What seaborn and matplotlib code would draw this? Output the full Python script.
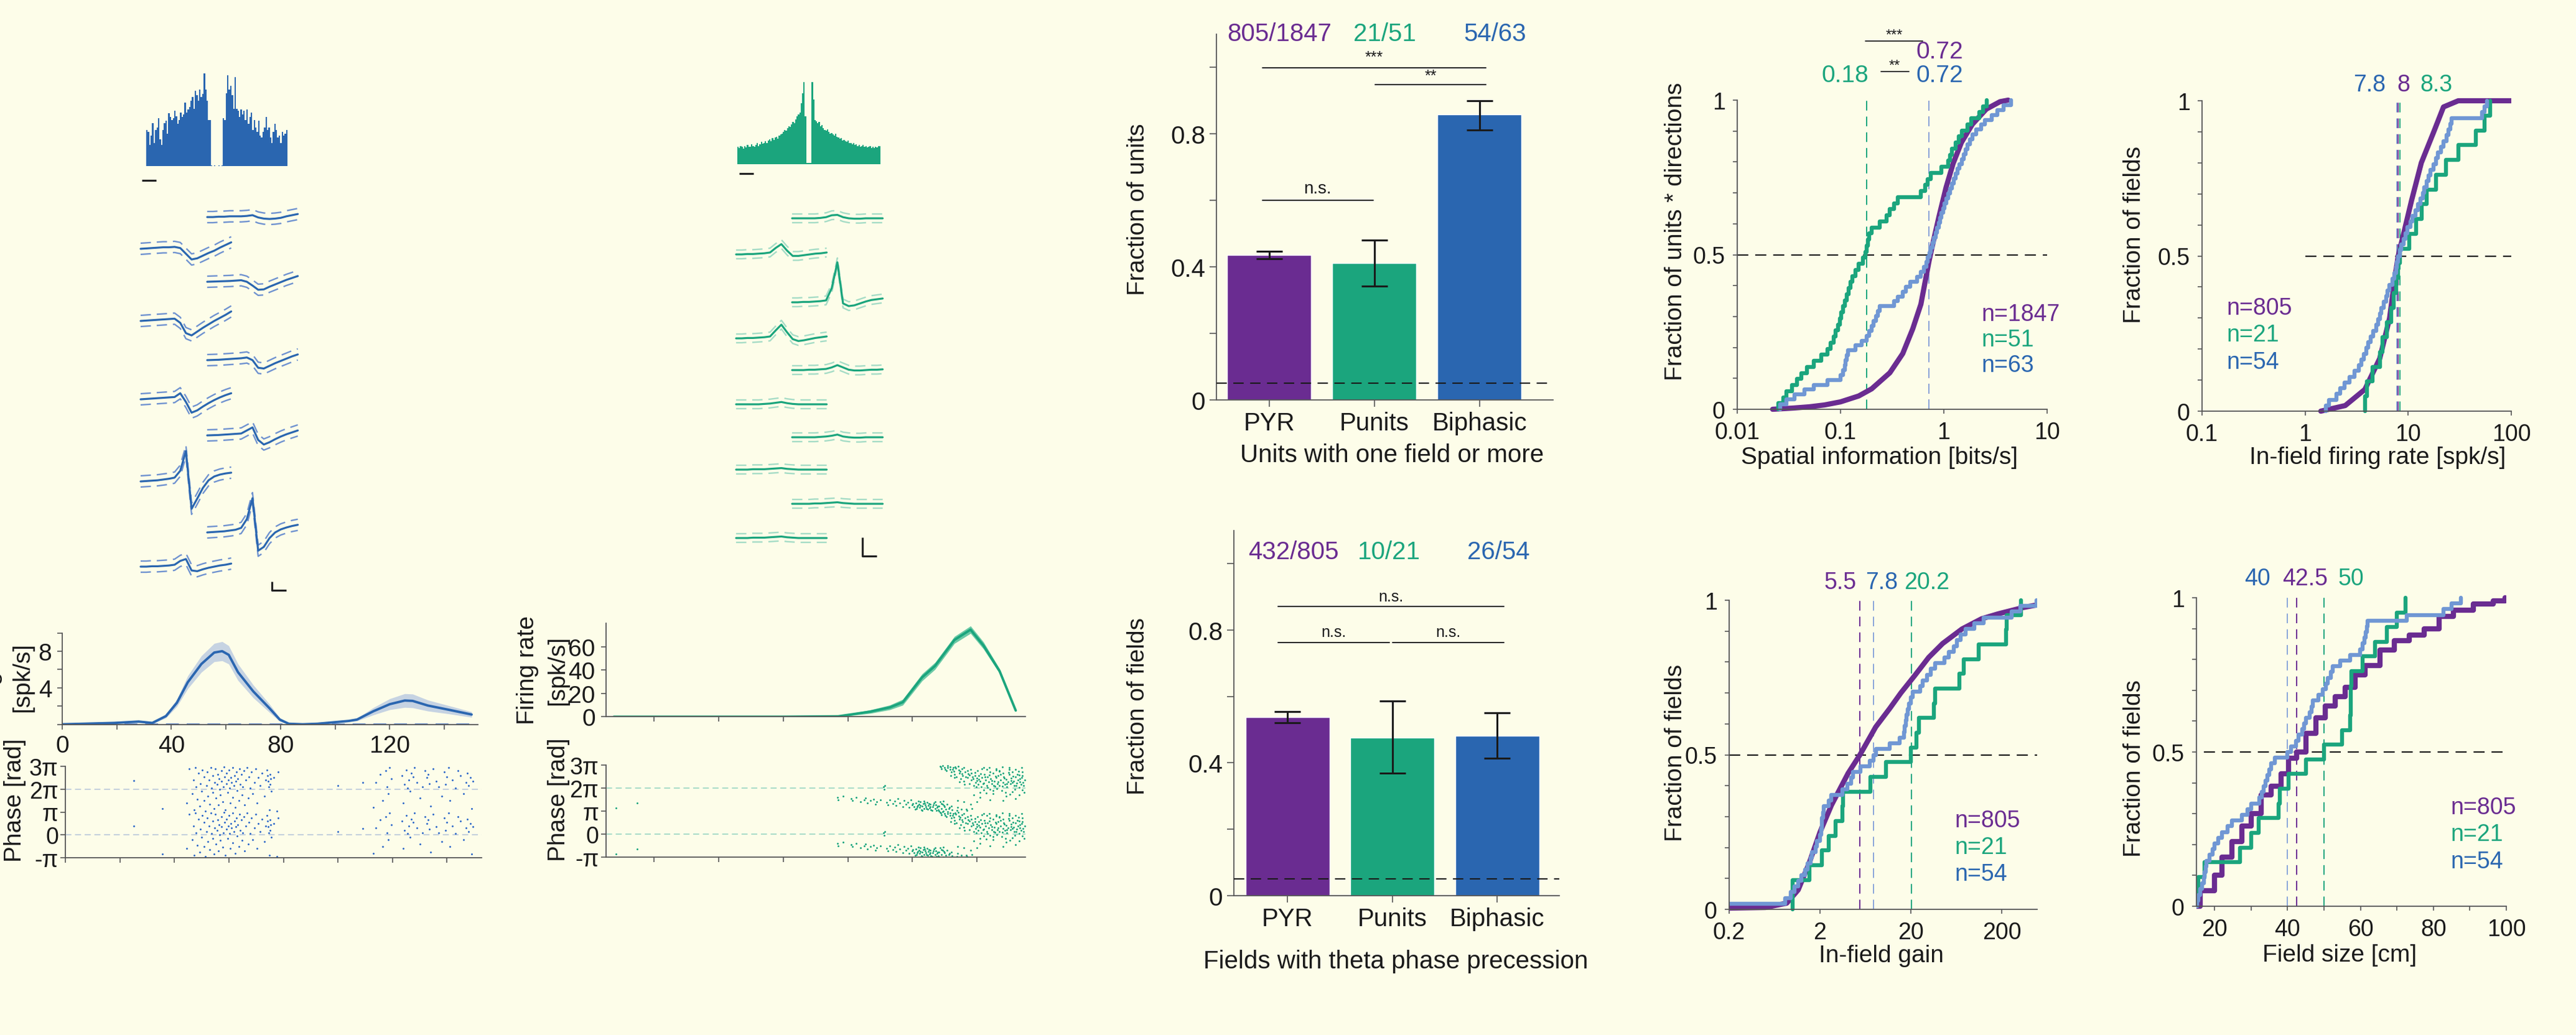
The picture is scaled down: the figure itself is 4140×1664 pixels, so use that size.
import numpy as np
import pandas as pd
import matplotlib
matplotlib.use("Agg")
import matplotlib.pyplot as plt
from matplotlib.patches import Rectangle
from matplotlib.ticker import NullLocator
import seaborn as sns

sns.set_theme(style="ticks")
plt.rcParams['font.family'] = ['Liberation Sans', 'DejaVu Sans']
plt.rcParams['axes.unicode_minus'] = False

# ------------------------------------------------------------------ colours
PURPLE = "#6a2c91"
GREEN = "#1ba57d"
BLUE = "#2a66b0"
LBLUE = "#7097d4"
BG = "#fdfde9"
TXT = "#1a1a1a"
SPINE = "#555555"

# ------------------------------------------------------------------ data
# autocorrelograms (counts per bin)
BLUE_ACG = [95, 90, 55, 80, 112, 60, 95, 100, 125, 70, 55, 95, 112, 118, 85, 138,
            128, 120, 125, 145, 130, 110, 120, 140, 128, 135, 165, 140, 148, 155,
            170, 180, 150, 196, 185, 170, 200, 180, 188, 242, 200, 170, 120, 120,
            2, 0, 2, 0, 0, 2, 0, 2,
            125, 120, 190, 237, 200, 210, 185, 150, 232, 150, 145, 128, 148, 135,
            145, 120, 148, 110, 128, 140, 95, 120, 100, 90, 118, 80, 75, 90, 100,
            128, 95, 100, 75, 60, 90, 110, 95, 75, 80, 60, 90, 80, 85, 95]
GREEN_ACG = [45, 42, 48, 45, 40, 47, 44, 50, 46, 45, 52, 48, 45, 50, 55, 48, 52,
             58, 54, 56, 60, 55, 62, 65, 60, 68, 64, 70, 72, 66, 75, 78, 80, 85,
             90, 88, 95, 100, 98, 105, 110, 108, 118, 125, 130, 135, 160, 185, 215, 125,
             4, 4, 4, 4,
             215, 170, 115, 112, 108, 110, 100, 102, 95, 90, 88, 92, 85, 80, 82, 78,
             75, 80, 72, 70, 66, 68, 62, 64, 60, 58, 62, 55, 56, 52, 55, 50, 52, 48,
             50, 46, 48, 50, 45, 47, 44, 46, 48, 43, 45, 42, 46, 44, 47, 48]

# mean waveforms (a.u.), left column channels then right column channels
BLUE_WF_LEFT = [
    [0, 1, 2, 3, 4, 4, 5, 2, -13, -28, -25, -18, -11, -5, 3, 10, 17],
    [0, 1, 2, 3, 4, 5, 6, -5, -32, -38, -28, -18, -9, 0, 8, 16, 25],
    [0, 1, 2, 3, 4, 5, 6, 16, -7, -35, -29, -19, -10, -2, 5, 11, 16],
    [0, 1, 2, 3, 5, 7, 10, 28, 80, -72, -45, -17, 3, 13, 18, 21, 23],
    [0, 0, 1, 1, 2, 3, 5, 15, 20, -10, -12, -7, -3, 0, 3, 5, 8]]
BLUE_WF_RIGHT = [
    [0, 0, 1, 1, 2, 2, 2, 3, 5, -1, -4, -5, -4, -2, 2, 5, 8],
    [0, 0.5, 1, 1.5, 2, 3, 4, 0, -10, -21, -20, -13, -7, -1, 5, 10, 15],
    [0, 0.5, 1, 2, 3, 4, 5, 7, 0, -20, -22, -15, -8, -2, 4, 10, 15],
    [0, 0.5, 1, 2, 3, 4, 5, 13, 21, -12, -24, -18, -10, -3, 3, 8, 13],
    [0, 1, 2, 3, 5, 7, 12, 35, 90, -48, -38, -15, 0, 8, 13, 17, 20]]
GREEN_WF_LEFT = [
    [0, 0, 1, 1, 2, 3, 5, 17, 27, 10, -4, -4, -2, 0, 2, 3, 5],
    [0, 0, 1, 1, 2, 3, 5, 21, 36, 16, -2, -7, -5, -2, 1, 3, 5],
    [0, 0, 0, 0, 0, 1, 2, 4, 6, 3, 1, 0, 0, 0, 0, 0, 0],
    [0, 0, 0, 1, 1, 1, 2, 3, 4, 2, 1, 0, 0, 0, 0, 0, 0],
    [0, 0, 0, 1, 1, 1, 2, 3, 4, 2, 1, 0, 0, 0, 0, 0, 0]]
GREEN_WF_RIGHT = [
    [0, 0, 0, 0, 0, 1, 3, 8, 9, 3, 0, -1, -1, 0, 0, 0, 0],
    [0, 0, 1, 1, 2, 3, 5, 37, 105, -3, -10, -8, -3, 2, 6, 8, 10],
    [0, 0, 0, 1, 1, 2, 3, 7, 13, 7, 1, -1, -1, 0, 1, 1, 2],
    [0, 0, 0, 0, 0, 1, 2, 4, 7, 2, 0, -1, -1, 0, 0, 0, 0],
    [0, 0, 0, 0, 1, 1, 2, 3, 4, 2, 1, 0, 0, 0, 0, 0, 0]]

# firing-rate maps
BLUE_FR_X = [0, 19, 28, 33, 38, 42, 46, 51, 55.7, 58.6, 61, 64.4, 70, 76, 79.7, 83,
             88, 93.5, 105, 108, 114, 120, 125.5, 128.4, 134, 141.5, 150]
BLUE_FR_Y = [0, 0.15, 0.3, 0.15, 0.9, 2.35, 4.6, 6.6, 7.85, 8.0, 7.6, 5.7, 3.6, 1.74,
             0.52, 0.06, 0, 0.06, 0.37, 0.52, 1.43, 2.2, 2.6, 2.56, 2.05, 1.6, 1.07]
BLUE_FR_E = [0.05, 0.05, 0.1, 0.1, 0.2, 0.4, 0.7, 0.9, 1.0, 1.05, 1.0, 0.9, 0.7, 0.45,
             0.2, 0.05, 0.03, 0.05, 0.1, 0.15, 0.4, 0.6, 0.75, 0.75, 0.6, 0.45, 0.3]
GREEN_FR_X = [7.5, 20, 40, 60, 77, 87, 93, 97, 103, 107, 113, 118, 122, 127, 132]
GREEN_FR_Y = [0, 0, 0, 0, 0.35, 4.4, 8, 12.4, 33.7, 43.5, 65.7, 74.5, 61, 39, 5.3]
GREEN_FR_E = [0.2, 0.2, 0.2, 0.2, 0.5, 1.5, 2, 2.5, 3, 3, 3, 3.2, 3, 2, 1]

# spikes: (position [cm], theta phase [pi rad])
BLUE_SPIKES = [
    (25, 0.38), (35.6, -0.85), (100, 0.15), (109, 0.28),
    (44.5, -0.6), (45.5, 0.9), (46.5, -0.2), (47, 0.4), (47.2, -0.9), (47.8, 0.95),
    (48, 0.1), (48.3, -0.45), (48.8, 0.7), (49.2, -0.75), (49.5, 0.25), (50, -0.1),
    (50.3, 0.85), (50.8, -0.5), (51, 0.55), (51.4, -0.95), (51.8, 0.15), (52, 0.75),
    (52.3, -0.3), (52.7, 0.4), (53, -0.65), (53.3, 0.95), (53.6, 0.05), (54, -0.15),
    (54.2, 0.6), (54.5, -0.85), (54.8, 0.3), (55.1, 0.9), (55.3, -0.4), (55.6, 0.2),
    (55.9, 0.65), (56.1, -0.7), (56.4, 0.45), (56.6, 0.0), (56.9, -0.25), (57.2, 0.8),
    (57.4, 0.35), (57.7, -0.55), (58, 0.1), (58.2, 0.98), (58.5, 0.55), (58.7, -0.9),
    (59, 0.25), (59.2, 0.7), (59.5, -0.15), (59.8, 0.4), (60, 0.85), (60.3, 0.05),
    (60.5, -0.6), (60.8, 0.5), (61, 0.3), (61.3, -0.35), (61.5, 0.95), (61.8, 0.15),
    (62, 0.6), (62.3, -0.8), (62.5, 0.35), (62.8, 0.75), (63, -0.05), (63.3, 0.45),
    (63.6, -0.5), (63.9, 0.9), (64.2, 0.2), (64.5, 0.65), (64.8, -0.25), (65.1, 0.1),
    (65.5, 0.8), (65.8, -0.7), (66.2, 0.4), (66.6, 0.95), (67, -0.4), (67.4, 0.55),
    (67.8, 0.05), (68.3, 0.75), (68.8, -0.2), (69.3, 0.3), (69.8, 0.9), (70.3, -0.6),
    (70.8, 0.5), (71.5, 0.15), (72.2, 0.7), (73, -0.3), (73.5, 0.4), (74, 0.85),
    (74.2, 0.6), (74.4, 0.35), (74.6, 0.1), (74.8, -0.9), (75, 0.65), (75.2, 0.2),
    (75.4, 0.45), (75.6, -0.1), (76.5, 0.5), (77.5, -0.95), (78, 0.75),
    (113, -0.8), (114, 0.3), (115.5, 0.65), (116.5, -0.5), (117.5, 0.8), (118, 0.1),
    (118.5, -0.2), (119, 0.95), (119.5, 0.45), (123.5, 0.6), (124, -0.6), (124.5, 0.2),
    (125, 0.85), (125.5, 0.05), (126, 0.4), (126.5, -0.1), (127, 0.7), (127.5, 0.55),
    (128, 0.95), (129, 0.3), (130, -0.4), (131, 0.1), (132, 0.8), (132.5, 0.5),
    (133, 0.65), (133.5, 0.25), (134, -0.75), (135, 0.9), (136, 0.35), (137, 0.1),
    (138, -0.3), (139, 0.75), (139.5, 0.2), (140, 0.55), (140.5, 0.95), (141, -0.5),
    (142, 0.4), (143, 0.05), (144, 0.8), (145, 0.6), (146, -0.2), (147, 0.3),
    (147.5, 0.7), (148, 0.15), (148.5, 0.5), (149, -0.85), (149.5, 0.35)]
GREEN_SPIKES = [
    (8.1, -0.87), (14.7, -0.65),
    (76.7, -0.4), (77, -0.5), (78.5, -0.35), (81, -0.45), (81.5, -0.55), (82.5, -0.4),
    (84, -0.6), (85, -0.5), (85.5, -0.42), (86, -0.65), (87, -0.55), (88, -0.48),
    (88.5, -0.7), (89, -0.6), (90, -0.52), (91, 0.05), (91.2, -0.05), (91.4, 0.12),
    (92, -0.62), (92.5, -0.72), (93, -0.5), (94, -0.68), (94.5, -0.58), (95, -0.75),
    (95.5, -0.45), (96, -0.66), (97, -0.8), (97.5, -0.55), (98, -0.7), (98.5, -0.62),
    (99, -0.85), (99.5, -0.5), (100, -0.72),
    (100.5, -0.8), (101, -0.65), (101.3, -0.9), (101.6, -0.75), (102, -0.7),
    (102.2, -0.85), (102.5, -0.6), (102.8, -0.95), (103, -0.78), (103.3, -0.68),
    (103.6, -0.88), (104, -0.72), (104.2, -0.82), (104.5, -0.62), (104.8, -0.92),
    (105, -0.76), (105.3, -0.86), (105.6, -0.7), (106, -0.98), (106.3, -0.8),
    (106.6, -0.66), (107, -0.9), (107.3, -0.74), (107.6, -0.84), (108, -0.95),
    (108.3, -0.78), (108.6, -0.6), (109, -0.88), (109.3, -0.7), (109.6, -1.0), (110, -0.82),
    (100.2, -0.68), (100.9, -0.93), (101.8, -0.58), (102.4, -0.77), (103.1, -0.97),
    (103.8, -0.64), (104.4, -0.9), (105.1, -0.67), (105.8, -0.94), (106.4, -0.72),
    (107.1, -0.6), (107.8, -0.79), (108.2, -0.99), (108.9, -0.67), (109.7, -0.77),
    (110.4, -0.93), (110.8, -0.7), (111.5, -0.85), (112.1, -0.78), (101.4, -0.82),
    (103.5, -0.56), (105.5, -0.82), (107.5, -0.96), (109.5, -0.58),
    (108.5, 0.95), (109, 0.85), (110, 0.9), (110.5, 0.75), (111, 0.98), (111.3, -0.9),
    (111.6, 0.8), (112, 0.7), (112.3, -0.95), (112.6, 0.88), (113, 0.6), (113.3, 0.92),
    (113.6, 0.5), (114, -0.85), (114.3, 0.78), (114.6, 0.65), (115, 0.4), (115.3, 0.85),
    (115.6, 0.55), (116, 0.3), (116.3, 0.7), (116.6, -0.92), (117, 0.45), (117.3, 0.62),
    (117.6, 0.2), (118, 0.8), (118.3, 0.35), (118.6, 0.5), (119, 0.1), (119.3, 0.68),
    (119.6, 0.25), (120, 0.42),
    (108.8, 0.92), (109.4, 0.97), (110.2, 0.82), (110.9, 0.88), (111.7, 0.93),
    (112.4, 0.82), (112.9, 0.74), (113.5, 0.86), (114.1, 0.95), (114.8, 0.72),
    (115.4, 0.62), (115.9, 0.9), (116.5, 0.48), (117.1, 0.77), (117.7, 0.58),
    (118.2, 0.66), (118.8, 0.4), (119.4, 0.54), (119.9, 0.33), (113.8, -0.98),
    (115.1, -0.93), (116.9, -0.97), (118.5, -0.88), (111.9, 0.55), (113.1, 0.45),
    (114.5, 0.28), (116.2, 0.15),
    (120.3, 0.15), (120.6, 0.55), (121, 0.3), (121.3, 0.05), (121.6, 0.45), (122, 0.22),
    (122.3, 0.6), (122.6, 0.35), (123, 0.1), (123.3, 0.5), (123.6, 0.28), (124, -0.05),
    (124.3, 0.4), (124.6, 0.18), (125, 0.65), (125.3, 0.3), (125.6, 0.08), (126, 0.45),
    (126.3, 0.2), (126.6, 0.55), (127, 0.12), (127.3, 0.35), (127.6, -0.1), (128, 0.25),
    (128.3, 0.5), (128.6, 0.15), (129, 0.38), (129.3, 0.05), (129.6, 0.28), (130, 0.6),
    (130.3, 0.18), (130.6, 0.42), (131, -0.15), (131.3, 0.3), (131.6, 0.1), (132, 0.48),
    (132.3, 0.22), (132.6, 0.35), (133, 0.02), (133.3, 0.4), (133.6, 0.15), (134, 0.55),
    (134.3, 0.25), (134.6, -0.2),
    (119.8, 0.05), (120.5, 0.38), (121.2, 0.62), (121.8, 0.18), (122.5, 0.48),
    (123.2, 0.02), (123.8, 0.58), (124.5, 0.32), (125.2, 0.12), (125.8, 0.52),
    (126.5, 0.28), (127.2, 0.6), (127.8, 0.08), (128.5, 0.42), (129.2, 0.2),
    (129.8, 0.68), (130.5, 0.32), (131.2, 0.52), (131.8, -0.05), (132.5, 0.6),
    (133.2, 0.27), (133.8, 0.47), (134.5, 0.1), (120.9, -0.18), (122.8, -0.22),
    (124.9, -0.12), (126.9, 0.72), (128.9, -0.2), (130.9, 0.25), (132.9, 0.72),
    (134.9, 0.35), (121.5, 0.85), (123.9, 0.9), (125.9, 0.78), (127.9, 0.92),
    (129.9, 0.88), (131.9, 0.82), (133.9, 0.9), (124.1, 0.7), (128.1, 0.65),
    (132.1, 0.12), (134.1, -0.08), (120.1, 0.75), (122.1, -0.08), (126.1, -0.02),
    (130.1, -0.28), (133.1, 0.58),
    (119, -0.3), (121, -0.4), (123, 0.8), (125, -0.25), (127, 0.75), (129, -0.35),
    (131, 0.7), (133, -0.3), (120, -0.6), (122, 0.9), (124, -0.5), (126, 0.85),
    (128, -0.55), (130, 0.8), (132, -0.45), (134, 0.7), (118, -0.7), (116, -0.6),
    (114, -0.55)]

# bar charts
CATEGORIES = ["PYR", "Punits", "Biphasic"]
UNITS_FRAC = [805 / 1847, 21 / 51, 54 / 63]
UNITS_LO = [0.424, 0.342, 0.811]
UNITS_HI = [0.447, 0.480, 0.900]
UNITS_COUNTS = ["805/1847", "21/51", "54/63"]
FIELDS_FRAC = [432 / 805, 10 / 21, 26 / 54]
FIELDS_LO = [0.520, 0.368, 0.413]
FIELDS_HI = [0.555, 0.586, 0.550]
FIELDS_COUNTS = ["432/805", "10/21", "26/54"]
CHANCE = 0.05

# CDF data -- spatial information [bits/s]
PUR_SI_X = [0.022, 0.035, 0.05, 0.07, 0.1, 0.15, 0.2, 0.3, 0.4, 0.5, 0.6, 0.72, 0.8,
            0.9, 1.05, 1.23, 1.48, 1.89, 2.58, 3.5, 4.2]
PUR_SI_F = [0, 0.004, 0.008, 0.014, 0.024, 0.043, 0.066, 0.118, 0.18, 0.26, 0.34,
            0.48, 0.55, 0.625, 0.717, 0.795, 0.863, 0.922, 0.971, 0.995, 1.0]
GRN_SI = [0.025, 0.028, 0.030, 0.034, 0.038, 0.042, 0.047, 0.055, 0.065, 0.075, 0.080,
          0.086, 0.090, 0.094, 0.098, 0.102, 0.106, 0.110, 0.115, 0.12, 0.125, 0.13,
          0.14, 0.15, 0.165, 0.175, 0.18, 0.185, 0.19, 0.20, 0.24, 0.28, 0.30, 0.33,
          0.36, 0.60, 0.66, 0.70, 0.75, 0.95, 1.10, 1.15, 1.20, 1.30, 1.40, 1.50, 1.70,
          1.85, 2.2, 2.4, 2.6]
BLU_SI = [0.026, 0.030, 0.036, 0.045, 0.055, 0.075, 0.10, 0.105, 0.11, 0.112, 0.115,
          0.118, 0.14, 0.16, 0.18, 0.19, 0.20, 0.21, 0.22, 0.23, 0.24, 0.33, 0.36, 0.40,
          0.43, 0.47, 0.55, 0.60, 0.64, 0.68, 0.70, 0.73, 0.75, 0.78, 0.80, 0.83, 0.86,
          0.90, 0.92, 0.95, 0.98, 1.02, 1.05, 1.10, 1.15, 1.20, 1.25, 1.30, 1.35, 1.42,
          1.50, 1.55, 1.62, 1.70, 1.80, 1.90, 2.05, 2.30, 2.50, 2.90, 3.30, 3.80, 4.50]
MED_SI = [0.72, 0.18, 0.72]

# in-field firing rate [spk/s]
PUR_FR_X = [1.42, 2.45, 3.8, 5.3, 6.6, 7.5, 8.0, 9.0, 10.8, 13.4, 17.7, 22, 30.6, 100]
PUR_FR_F = [0, 0.018, 0.07, 0.17, 0.3, 0.44, 0.5, 0.57, 0.68, 0.8, 0.9, 0.98, 1.0, 1.0]
GRN_FR = [3.8, 4.0, 4.5, 5.3, 5.6, 6.2, 6.8, 7.2, 7.6, 8.0, 8.3, 10.2, 12.0, 13.5,
          15.0, 18.6, 23.3, 30.6, 45.0, 55.0, 62.0]
BLU_FR = [1.6, 1.7, 2.0, 2.2, 2.4, 2.7, 3.0, 3.3, 3.5, 3.7, 3.9, 4.1, 4.3, 4.6, 4.9,
          5.1, 5.3, 5.5, 5.8, 6.1, 6.3, 6.6, 7.0, 7.3, 7.6, 7.8, 8.0, 8.3, 8.6, 9.0,
          9.4, 9.8, 10.5, 11, 11.8, 12.5, 13.2, 13.8, 14.2, 15.0, 15.8, 16.5, 17.5,
          18.5, 19.5, 20.8, 22.0, 23.5, 24.5, 25.5, 26.5, 52, 55, 58]
MED_FR = [8.0, 8.3, 7.8]

# in-field gain
PUR_GAIN_X = [0.2, 0.5, 0.86, 1.15, 1.52, 2.0, 2.67, 4.07, 5.5, 8.2, 11.7, 15.5, 22,
              31.4, 44.7, 73, 120, 183, 340, 490]
PUR_GAIN_F = [0.004, 0.006, 0.02, 0.063, 0.15, 0.25, 0.337, 0.44, 0.5, 0.59, 0.65,
              0.70, 0.756, 0.815, 0.86, 0.907, 0.94, 0.956, 0.976, 0.985]
GRN_GAIN = [1.0, 1.0, 1.52, 2.08, 2.5, 2.97, 3.5, 3.6, 7.2, 10.6, 19.9, 22.9, 24.4,
            36, 37, 68, 76, 112, 224, 226, 325]
BLU_GAIN = [0.1, 0.83, 0.96, 1.05, 1.15, 1.25, 1.37, 1.45, 1.57, 1.62, 1.8, 1.85, 2.0,
            2.05, 2.08, 2.1, 2.15, 2.2, 2.5, 2.67, 3.5, 4.0, 4.4, 4.6, 5.6, 7.0, 7.8,
            8.2, 11.7, 15.0, 16.7, 17.0, 17.5, 18.0, 18.5, 19.0, 19.9, 21, 25.3, 27,
            30.1, 33, 37, 47, 52, 59, 64, 70, 80, 100, 126, 256, 320, 480]
MED_GAIN = [5.5, 20.2, 7.8]

# field size [cm]
PUR_SIZE_X = [15, 16, 20, 22, 24.7, 27.4, 30, 32.8, 35.5, 38.2, 40.3, 42.5, 45, 47.7,
              50.4, 53, 55.8, 58.5, 61.2, 65.3, 69.3, 73.4, 77.4, 81.5, 85.5, 91, 96.4, 99.7]
PUR_SIZE_F = [0, 0.05, 0.10, 0.16, 0.21, 0.26, 0.30, 0.36, 0.39, 0.43, 0.48, 0.50,
              0.56, 0.61, 0.65, 0.68, 0.71, 0.75, 0.78, 0.83, 0.86, 0.88, 0.90, 0.94,
              0.96, 0.98, 0.99, 1.0]
GRN_SIZE = [15.2, 15.5, 17.3, 27, 30, 32, 37.6, 37.8, 40.3, 45, 50, 55, 57.2, 57.3,
            57.4, 57.5, 60.5, 64, 67.3, 70, 72.3]
BLU_SIZE = [15.2, 15.5, 16, 16.5, 17, 17.3, 17.5, 17.8, 18.5, 19.5, 20, 21, 22, 23.5,
            24.7, 27.4, 29, 30, 32.2, 33, 33.5, 34, 34.5, 34.9, 35.5, 36.5, 40, 41,
            42.3, 43, 44, 44.5, 45, 46, 46.5, 47, 48.5, 49.7, 50.5, 51, 51.8, 52.4,
            54.5, 57.2, 59.9, 60.5, 61, 61.5, 61.8, 62, 72.7, 82.8, 85, 87.6]
MED_SIZE = [42.5, 50, 40]

N_UNITS = ["n=1847", "n=51", "n=63"]
N_FIELDS = ["n=805", "n=21", "n=54"]

# ------------------------------------------------------------------ figure
W, H, DPI = 4140, 1665, 100
fig = plt.figure(figsize=(W / DPI, H / DPI), dpi=DPI, facecolor=BG)


def add_ax(x0, y0, x1, y1):
    ax = fig.add_axes([x0 / W, 1 - y1 / H, (x1 - x0) / W, (y1 - y0) / H])
    ax.set_facecolor("none")
    return ax


def style(ax, tick_len=7, pad=4, size=28):
    sns.despine(ax=ax)
    for s in ["left", "bottom"]:
        ax.spines[s].set_color(SPINE)
        ax.spines[s].set_linewidth(1.3)
    ax.tick_params(direction="out", length=tick_len, width=1.2, color=SPINE,
                   pad=pad, labelsize=size, labelcolor=TXT)


ov = fig.add_axes([0, 0, 1, 1])
ov.set_xlim(0, W)
ov.set_ylim(H, 0)
ov.axis("off")
ov.set_zorder(20)
ov.patch.set_alpha(0)


def otext(x, y, s, size=28, color=TXT, rot=0, ha="center", va="center"):
    ov.text(x, y, s, fontsize=size, color=color, rotation=rot, ha=ha, va=va,
            clip_on=False)


# ---------------- ACGs
def draw_acg(box, counts, color):
    ax = add_ax(*box)
    idx = np.arange(len(counts))
    sns.histplot(x=idx, weights=counts, discrete=True, ax=ax, color=color,
                 alpha=1, linewidth=0, shrink=1)
    ax.set_xlim(-0.5, len(counts) - 0.5)
    ax.set_ylim(0, max(counts))
    ax.axis("off")


draw_acg((235, 119, 462, 268), BLUE_ACG, BLUE)
draw_acg((1185, 133, 1415, 265), GREEN_ACG, GREEN)


# ---------------- waveforms
def draw_wf(box, left, right, xl, xr, bl, br, sd, color, dcolor):
    ax = add_ax(*box)
    ax.set_xlim(box[0], box[2])
    ax.set_ylim(box[3], box[1])
    ax.axis("off")
    dx, sc = 9.1, 0.612
    for waves, x0, bases in ((left, xl, bl), (right, xr, br)):
        for w, b in zip(waves, bases):
            w = np.asarray(w, float)
            t = x0 + dx * np.arange(len(w))
            y = b - w * sc
            ax.plot(t, y - sd, color=dcolor, lw=1.7, dashes=(7, 4))
            ax.plot(t, y + sd, color=dcolor, lw=1.7, dashes=(7, 4))
            ax.plot(t, y, color=color, lw=2.3)


draw_wf((200, 320, 520, 990), BLUE_WF_LEFT, BLUE_WF_RIGHT, 226, 333,
        [401, 517, 643, 775, 912], [350, 454, 580, 701, 857], 9, BLUE, "#6f92d0")
draw_wf((1160, 320, 1440, 920), GREEN_WF_LEFT, GREEN_WF_RIGHT, 1183, 1273,
        [410, 545, 651, 756, 866], [352, 487, 596, 704, 811], 7, GREEN, "#a5dcc6")

# scale bars
for xs, ys in (([228, 251], [291, 291]), ([437, 437, 460], [936, 950, 950]),
               ([1188, 1211], [280, 280]), ([1386, 1386, 1409], [865, 895, 895])):
    ov.plot(xs, ys, color="#222222", lw=2.3, solid_capstyle="butt")


# ---------------- firing-rate maps
def draw_fr(box, xs, ys, es, color, band, xlim, ylim, xticks, xlabels,
            yticks, ylabels, base_dash=None):
    ax = add_ax(*box)
    x = np.asarray(xs); y = np.asarray(ys); e = np.asarray(es)
    if base_dash:
        ax.hlines(0, 0, xs[-1], color=base_dash, lw=3, linestyles=(0, (5, 3)))
    ax.fill_between(x, y - e, y + e, color=band, lw=0)
    sns.lineplot(x=x, y=y, ax=ax, color=color, lw=2.8, estimator=None, sort=False)
    ax.set_xlim(*xlim); ax.set_ylim(*ylim)
    ax.set_xticks(xticks); ax.set_xticklabels(xlabels)
    ax.set_yticks(yticks); ax.set_yticklabels(ylabels)
    ax.set_xlabel(""); ax.set_ylabel("")
    style(ax, tick_len=6, pad=6, size=28)
    return ax


draw_fr((100, 1018.5, 768.5, 1165.5), BLUE_FR_X, BLUE_FR_Y, BLUE_FR_E, BLUE,
        "#c6d3e2", (0, 152.4), (0, 10),
        [0, 20, 40, 60, 80, 100, 120, 140], ["0", "", "40", "", "80", "", "120", ""],
        [0, 2, 4, 6, 8, 10], ["", "", "4", "", "8", ""], base_dash="#6f92d0")
draw_fr((973.5, 1003, 1648, 1153.3), GREEN_FR_X, GREEN_FR_Y, GREEN_FR_E, GREEN,
        "#6cc9a6", (5, 135), (0, 80),
        [20, 40, 60, 80, 100, 120], [""] * 6,
        [0, 20, 40, 60], ["0", "20", "40", "60"])


def draw_phase(box, spikes, color, line_col, xlim, xticks):
    ax = add_ax(*box)
    df = pd.DataFrame(spikes, columns=["pos", "phase"])
    df = pd.concat([df, df.assign(phase=df["phase"] + 2)], ignore_index=True)
    for lv in (0, 2):
        ax.axhline(lv, color=line_col, lw=1.4, dashes=(5, 3), zorder=0)
    sns.scatterplot(data=df, x="pos", y="phase", ax=ax, color=color, s=4.5,
                    linewidth=0, legend=False)
    ax.set_xlim(*xlim); ax.set_ylim(-1, 3)
    ax.set_xticks(xticks); ax.set_xticklabels([""] * len(xticks))
    ax.set_yticks([-1, 0, 1, 2, 3])
    ax.set_yticklabels(["-π", "0", "π", "2π", "3π"])
    ax.set_xlabel(""); ax.set_ylabel("")
    style(ax, tick_len=6, pad=2, size=27)
    return ax


draw_phase((105, 1233, 773.6, 1380), BLUE_SPIKES, "#2a66c8", "#c3cfdc", (0, 152.6),
           [0, 20, 40, 60, 80, 100, 120, 140])
draw_phase((973.5, 1231, 1648, 1379), GREEN_SPIKES, GREEN, "#a8dcc8", (5, 135),
           [20, 40, 60, 80, 100, 120])

otext(-14, 1089, "Firing rate", rot=90)
otext(36, 1089, "[spk/s]", rot=90)
otext(24, 1287, "Phase [rad]", rot=90)
otext(848, 1077, "Firing rate", rot=90)
otext(896, 1078, "[spk/s]", rot=90)
otext(898, 1286, "Phase [rad]", rot=90)


# ---------------- bar charts
def draw_bars(box, fr, lo, hi, counts, count_x, count_y, xlim):
    ax = add_ax(*box)
    df = pd.DataFrame({"cat": CATEGORIES, "frac": fr})
    sns.barplot(data=df, x="cat", y="frac", hue="cat", order=CATEGORIES,
                palette=[PURPLE, GREEN, BLUE], saturation=1, width=0.8,
                legend=False, ax=ax, errorbar=None)
    fr = np.asarray(fr)
    ax.errorbar(np.arange(3), fr, yerr=[fr - np.asarray(lo), np.asarray(hi) - fr],
                fmt="none", ecolor="#1a1a1a", elinewidth=2.2, capsize=15, capthick=2.2,
                zorder=5)
    ax.axhline(CHANCE, color="#1a1a1a", lw=1.5, dashes=(8, 5), zorder=6)
    ax.set_xlim(*xlim); ax.set_ylim(0, 1.1)
    ax.set_yticks([0, 0.2, 0.4, 0.6, 0.8, 1.0])
    ax.set_yticklabels(["0", "", "0.4", "", "0.8", ""])
    ax.set_xlabel(""); ax.set_ylabel("")
    style(ax, tick_len=8, pad=5, size=29)
    for i, (c, col) in enumerate(zip(counts, [PURPLE, GREEN, BLUE])):
        ax.text(i + count_x[i], count_y, c, color=col, fontsize=29, ha="center",
                va="center", clip_on=False)
    return ax


def sig(ax, x0, x1, y, label, ty, size):
    ax.plot([x0, x1], [y, y], color="#222222", lw=1.4, clip_on=False)
    ax.text((x0 + x1) / 2, ty, label, ha="center", va="center", fontsize=size,
            color=TXT, clip_on=False)


axb1 = draw_bars((1955, 55.5, 2496, 644), UNITS_FRAC, UNITS_LO, UNITS_HI, UNITS_COUNTS,
                 [0.1, 0.1, 0.15], 1.10, (-0.5, 2.7))
sig(axb1, -0.065, 2.06, 0.998, "***", 1.03, 18)
sig(axb1, 1.01, 2.06, 0.947, "**", 0.975, 18)
sig(axb1, -0.065, 0.99, 0.60, "n.s.", 0.635, 20)
otext(1829, 337, "Fraction of units", rot=90, size=28)
otext(2237, 732, "Units with one field or more", size=29)

axb2 = draw_bars((1983, 853.6, 2506, 1441), FIELDS_FRAC, FIELDS_LO, FIELDS_HI,
                 FIELDS_COUNTS, [0.06, -0.03, 0.01], 1.036, (-0.51, 2.59))
sig(axb2, -0.09, 2.06, 0.87, "n.s.", 0.90, 18)
sig(axb2, -0.09, 0.97, 0.762, "n.s.", 0.794, 18)
sig(axb2, 1.0, 2.06, 0.762, "n.s.", 0.794, 18)
otext(1829, 1136, "Fraction of fields", rot=90, size=28)
otext(2243, 1546, "Fields with theta phase precession", size=29)


# ---------------- CDFs
def finish_ecdf(line, log):
    xd, yd = line.get_data()
    xd = np.asarray(xd, float); yd = np.asarray(yd, float)
    bad = ~np.isfinite(xd) | ((xd <= 0) if log else False)
    if bad.any():
        xd[bad] = xd[~bad][0]
    line.set_data(xd, yd)


def draw_cdf(box, log, xlim, xticks, xlabels, pur_x, pur_f, grn, blu, meds,
             half_from, pur_steps=False):
    ax = add_ax(*box)
    if log:
        ax.set_xscale("log")
    clip = Rectangle((0, -0.04), 1.0, 1.08, transform=ax.transAxes, visible=False)
    ax.vlines(meds[0], 0, 1, color=PURPLE, lw=1.4, linestyles=(0, (8, 5)), zorder=1)
    ax.vlines(meds[1], 0, 1, color=GREEN, lw=1.4, linestyles=(0, (8, 5)), zorder=1)
    ax.vlines(meds[2], 0, 1, color="#8aa6da", lw=1.4, linestyles=(0, (8, 5)), zorder=1)
    ax.hlines(0.5, half_from, xlim[1], color="#1a1a1a", lw=1.6,
              linestyles=(0, (8, 5)), zorder=1)
    kw = dict(drawstyle="steps-post") if pur_steps else {}
    sns.lineplot(x=pur_x, y=pur_f, ax=ax, color=PURPLE, lw=6, estimator=None,
                 sort=False, **kw)
    ax.lines[-1].set_clip_path(clip)
    sns.ecdfplot(x=grn, ax=ax, color=GREEN, lw=4.6)
    finish_ecdf(ax.lines[-1], log)
    ax.lines[-1].set_clip_path(clip)
    sns.ecdfplot(x=blu, ax=ax, color=LBLUE, lw=4.6)
    finish_ecdf(ax.lines[-1], log)
    ax.lines[-1].set_clip_path(clip)
    ax.set_xlim(*xlim); ax.set_ylim(0, 1)
    ax.set_xticks(xticks); ax.set_xticklabels(xlabels)
    ax.xaxis.set_minor_locator(NullLocator())
    ax.set_yticks(np.round(np.arange(0, 1.01, 0.1), 2))
    ax.set_yticklabels(["0", "", "", "", "", "0.5", "", "", "", "", "1"])
    ax.set_xlabel(""); ax.set_ylabel("")
    style(ax, tick_len=5, pad=9, size=27)
    return ax


draw_cdf((2792, 162, 3290, 659), True, (0.01, 10), [0.01, 0.1, 1, 10],
         ["0.01", "0.1", "1", "10"], PUR_SI_X, PUR_SI_F, GRN_SI, BLU_SI, MED_SI, 0.01)
otext(2693, 372, "Fraction of units * directions", rot=90, size=28)
otext(3021, 736, "Spatial information [bits/s]", size=28)
otext(3117, 84, "0.72", color=PURPLE, size=28)
otext(3117, 122, "0.72", color=BLUE, size=28)
otext(2965, 122, "0.18", color=GREEN, size=28)
ov.plot([2998, 3090], [67, 67], color="#222222", lw=1.3)
ov.plot([3023, 3068], [116, 116], color="#222222", lw=1.3)
otext(3044, 58, "***", size=17)
otext(3045, 107, "**", size=17)
for i, (s, c) in enumerate(zip(N_UNITS, [PURPLE, GREEN, BLUE])):
    otext(3184, 506 + 41 * i, s, color=c, size=27, ha="left")

draw_cdf((3539, 163, 4036, 662), True, (0.1, 100), [0.1, 1, 10, 100],
         ["0.1", "1", "10", "100"], PUR_FR_X, PUR_FR_F, GRN_FR, BLU_FR, MED_FR, 1)
otext(3430, 378, "Fraction of fields", rot=90, size=28)
otext(3821, 736, "In-field firing rate [spk/s]", size=28)
otext(3808, 137, "7.8", color=BLUE, size=27)
otext(3863, 137, "8", color=PURPLE, size=27)
otext(3915, 137, "8.3", color=GREEN, size=27)
for i, (s, c) in enumerate(zip(N_FIELDS, [PURPLE, GREEN, BLUE])):
    otext(3578, 496 + 43.5 * i, s, color=c, size=27, ha="left")

draw_cdf((2779, 966, 3274, 1463), True, (0.2, 490), [0.2, 2, 20, 200],
         ["0.2", "2", "20", "200"], PUR_GAIN_X, PUR_GAIN_F, GRN_GAIN, BLU_GAIN,
         MED_GAIN, 0.2)
otext(2693, 1211, "Fraction of fields", rot=90, size=28)
otext(3023, 1537, "In-field gain", size=28)
otext(2958, 937, "5.5", color=PURPLE, size=27)
otext(3024, 937, "7.8", color=BLUE, size=27)
otext(3097, 937, "20.2", color=GREEN, size=27)
for i, (s, c) in enumerate(zip(N_FIELDS, [PURPLE, GREEN, BLUE])):
    otext(3141, 1320 + 43 * i, s, color=c, size=27, ha="left")

draw_cdf((3530, 962, 4028, 1458), False, (15, 100), [20, 30, 40, 50, 60, 70, 80, 90, 100],
         ["20", "", "40", "", "60", "", "80", "", "100"], PUR_SIZE_X, PUR_SIZE_F,
         GRN_SIZE, BLU_SIZE, MED_SIZE, 17, pur_steps=True)
otext(3430, 1236, "Fraction of fields", rot=90, size=28)
otext(3760, 1536, "Field size [cm]", size=28)
otext(3628, 931, "40", color=BLUE, size=27)
otext(3705, 931, "42.5", color=PURPLE, size=27)
otext(3778, 931, "50", color=GREEN, size=27)
for i, (s, c) in enumerate(zip(N_FIELDS, [PURPLE, GREEN, BLUE])):
    otext(3938, 1299 + 43.5 * i, s, color=c, size=27, ha="left")

fig.savefig("out.png", dpi=DPI, facecolor=BG)
